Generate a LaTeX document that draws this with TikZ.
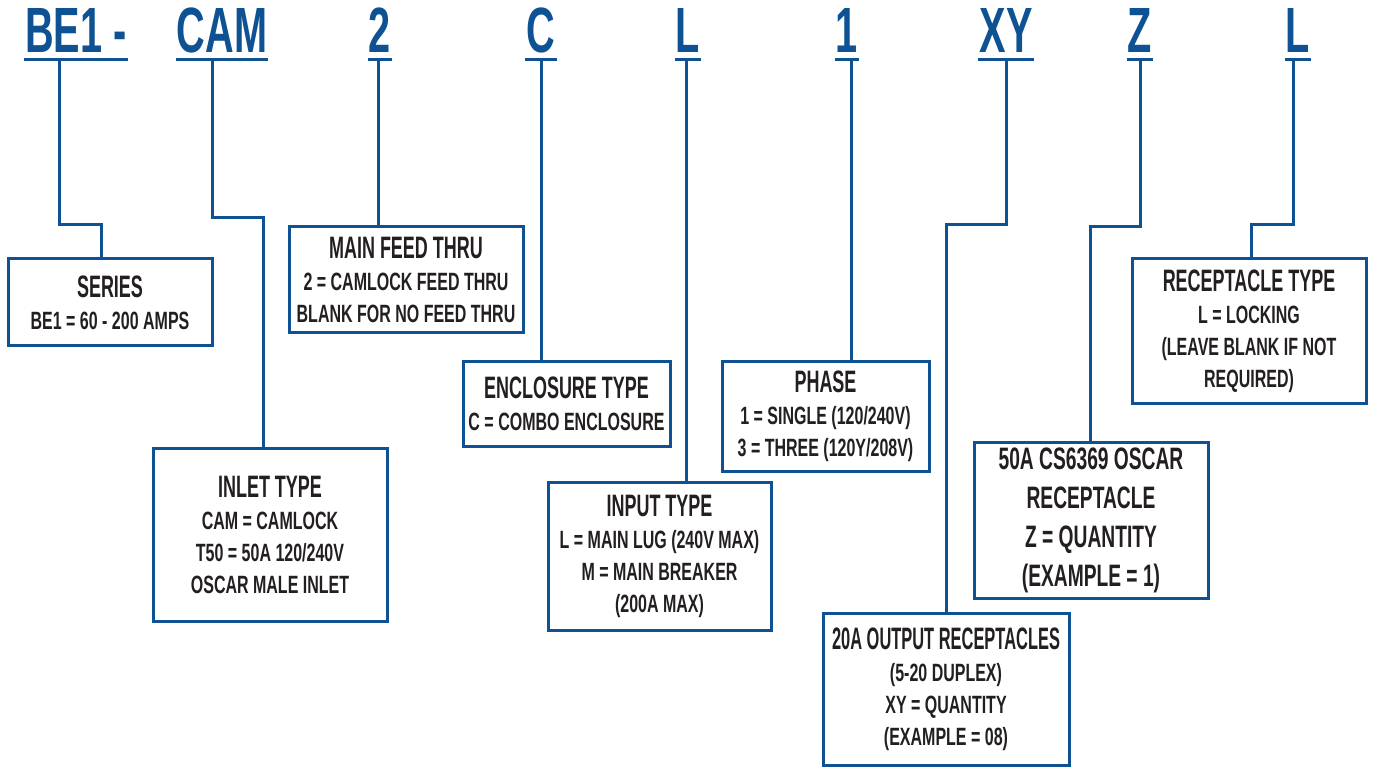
\documentclass[tikz,border=0pt]{standalone}
\usepackage{fontspec}
\setmainfont{Liberation Sans}[FakeStretch=0.64]
\newfontfamily\codefont{Liberation Sans}[FakeStretch=0.62]
\newfontfamily\hdfont{Liberation Sans}[FakeStretch=0.58]
\newfontfamily\hdnarrow{Liberation Sans}[FakeStretch=0.53]
\usetikzlibrary{positioning}
\definecolor{codeblue}{HTML}{0E5294}
\definecolor{inkgray}{HTML}{231F20}
\newcommand\hd[1]{{\hdfont\bfseries\fontsize{31}{34}\selectfont #1}}

\begin{document}
\begin{tikzpicture}[x=1pt,y=-1pt,
    code/.style={text=codeblue,font=\codefont\bfseries\fontsize{64}{64}\selectfont,
      anchor=south,inner xsep=1pt,inner ysep=7pt,text depth=0pt},
    box/.style={draw=codeblue,line width=3pt,align=center,text=inkgray,
      font=\bfseries\fontsize{25}{32}\selectfont,inner sep=0pt},
    wire/.style={draw=codeblue,line width=3pt}]
  \useasboundingbox (0,0) rectangle (1374,767);

  % part number
  \node[code] (lblBE)  at (76,60)   {BE1 -};
  \node[code] (lblCAM) at (222,60)  {CAM};
  \node[code] (lblFT)  at (380,60)  {2};
  \node[code] (lblEN)  at (541,60)  {C};
  \node[code] (lblIN)  at (688,60)  {L};
  \node[code] (lblPH)  at (847,60)  {1};
  \node[code] (lblXY)  at (1006,60) {XY};
  \node[code] (lblZ)   at (1140,60) {Z};
  \node[code] (lblRT)  at (1298,60) {L};
  \foreach \n in {lblBE,lblCAM,lblFT,lblEN,lblIN,lblPH,lblXY,lblZ,lblRT}
    \draw[wire] (\n.south west) -- (\n.south east);

  % boxes
  \node[box,minimum width=204pt,minimum height=87pt] (series) at (110,302.5)
    {\hd{SERIES}\\BE1 = 60 - 200 AMPS};
  \node[box,minimum width=234pt,minimum height=106pt] (feed) at (406,280)
    {\hd{MAIN FEED THRU}\\2 = CAMLOCK FEED THRU\\BLANK FOR NO FEED THRU};
  \node[box,minimum width=234pt,minimum height=173pt] (inlet) at (270,534.5)
    {\hd{INLET TYPE}\\CAM = CAMLOCK\\T50 = 50A 120/240V\\OSCAR MALE INLET};
  \node[box,minimum width=207pt,minimum height=84pt] (encl) at (566.5,404)
    {\hd{ENCLOSURE TYPE}\\C = COMBO ENCLOSURE};
  \node[box,minimum width=223pt,minimum height=148pt] (input) at (659.5,556)
    {\hd{INPUT TYPE}\\L = MAIN LUG (240V MAX)\\M = MAIN BREAKER\\(200A MAX)};
  \node[box,minimum width=207pt,minimum height=109pt] (phase) at (825.5,416.5)
    {\hd{PHASE}\\1 = SINGLE (120/240V)\\3 = THREE (120Y/208V)};
  \node[box,minimum width=246pt,minimum height=152pt] (output) at (946,689)
    {{\hdnarrow\bfseries\fontsize{31}{34}\selectfont 20A OUTPUT RECEPTACLES}\\(5-20 DUPLEX)\\XY = QUANTITY\\(EXAMPLE = 08)};
  \node[box,minimum width=234pt,minimum height=156pt,
        font=\codefont\bfseries\fontsize{31}{39}\selectfont] (qty) at (1091,520)
    {50A CS6369 OSCAR\\RECEPTACLE\\Z = QUANTITY\\(EXAMPLE = 1)};
  \node[box,minimum width=234pt,minimum height=144pt] (rtype) at (1249,331)
    {\hd{RECEPTACLE TYPE}\\L = LOCKING\\(LEAVE BLANK IF NOT\\REQUIRED)};

  % leaders
  \coordinate (bBE)  at (101,225);
  \coordinate (bCAM) at (263,218);
  \coordinate (bXY)  at (946,225);
  \coordinate (bZ)   at (1090,227);
  \coordinate (bRT)  at (1251,225);
  \draw[wire] ([xshift=-17pt]lblBE.south) |- (bBE) -- (bBE |- series.north);
  \draw[wire] ([xshift=-10pt]lblCAM.south) |- (bCAM) -- (bCAM |- inlet.north);
  \draw[wire] ([xshift=-2pt]lblFT.south) -- ([xshift=-2pt]lblFT.south |- feed.north);
  \draw[wire] (lblEN.south) -- (lblEN.south |- encl.north);
  \draw[wire] ([xshift=-2pt]lblIN.south) -- ([xshift=-2pt]lblIN.south |- input.north);
  \draw[wire] ([xshift=4pt]lblPH.south) -- ([xshift=4pt]lblPH.south |- phase.north);
  \draw[wire] (lblXY.south) |- (bXY) -- (bXY |- output.north);
  \draw[wire] (lblZ.south) |- (bZ) -- (bZ |- qty.north);
  \draw[wire] ([xshift=-5pt]lblRT.south) |- (bRT) -- (bRT |- rtype.north);
\end{tikzpicture}
\end{document}
